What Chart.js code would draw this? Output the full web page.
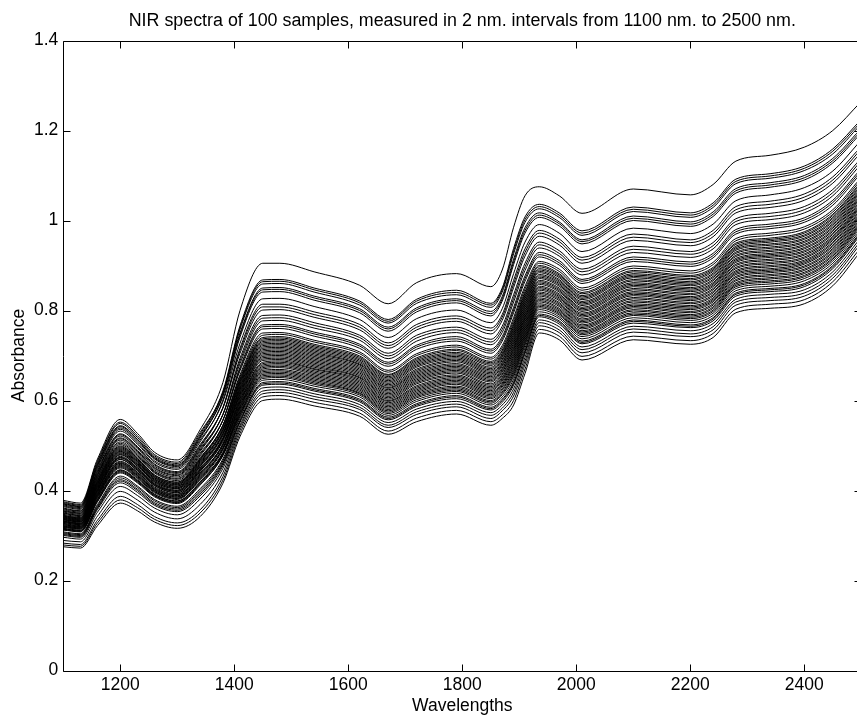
<!DOCTYPE html>
<html>
<head>
<meta charset="utf-8">
<script src="https://cdn.jsdelivr.net/npm/chart.js@4/dist/chart.umd.min.js"></script>
<style>
html,body{margin:0;padding:0;background:#fff;overflow:hidden;}
canvas{display:block;}
</style>
</head>
<body>
<canvas id="c" width="870" height="718"></canvas>
<script>
const wavelengths = [1100,1130,1160,1200,1230,1260,1300,1340,1380,1410,1450,1480,1540,1620,1670,1720,1790,1850,1870,1890,1910,1935,1970,2010,2100,2200,2240,2280,2340,2400,2450,2498];

// Absorbance of each sample at those wavelengths
const sample01 = [.378,.372,.470,.558,.527,.485,.468,.535,.640,.800,.905,.905,.886,.856,.815,.862,.882,.853,.890,.985,1.055,1.075,1.055,1.016,1.070,1.057,1.080,1.132,1.145,1.163,1.200,1.262];
const sample02 = [.373,.367,.463,.549,.518,.477,.460,.525,.621,.766,.868,.869,.850,.821,.780,.825,.845,.816,.850,.938,1.008,1.036,1.017,.977,1.030,1.017,1.039,1.092,1.104,1.121,1.159,1.222];
const sample03 = [.368,.362,.455,.539,.510,.470,.453,.516,.612,.758,.859,.860,.841,.812,.772,.816,.835,.807,.841,.926,.996,1.026,1.007,.967,1.020,1.007,1.029,1.082,1.094,1.111,1.148,1.212];
const sample04 = [.375,.369,.466,.552,.522,.480,.463,.529,.617,.750,.850,.851,.832,.804,.763,.806,.826,.798,.831,.914,.984,1.017,.997,.957,1.010,.997,1.019,1.071,1.084,1.100,1.138,1.202];
const sample05 = [.364,.358,.449,.532,.503,.463,.447,.508,.601,.741,.841,.842,.823,.795,.754,.797,.817,.788,.821,.902,.972,1.007,.988,.948,1.000,.987,1.009,1.061,1.074,1.090,1.128,1.192];
const sample06 = [.366,.360,.452,.536,.506,.466,.450,.512,.597,.727,.826,.827,.809,.780,.740,.782,.801,.773,.804,.882,.952,.991,.972,.931,.983,.971,.992,1.044,1.057,1.073,1.110,1.176];
const sample07 = [.357,.352,.440,.521,.493,.454,.438,.496,.584,.716,.814,.814,.797,.769,.728,.769,.788,.761,.791,.867,.937,.978,.959,.918,.970,.957,.978,1.031,1.043,1.059,1.097,1.162];
const sample08 = [.361,.355,.445,.526,.498,.459,.442,.502,.583,.705,.801,.802,.785,.757,.716,.757,.776,.748,.778,.851,.921,.965,.946,.905,.956,.944,.964,1.017,1.029,1.045,1.083,1.149];
const sample09 = [.352,.347,.433,.512,.484,.446,.430,.487,.569,.694,.789,.790,.773,.745,.705,.745,.763,.736,.765,.835,.905,.952,.933,.892,.943,.931,.951,1.004,1.016,1.031,1.069,1.136];
const sample10 = [.355,.350,.437,.517,.489,.451,.435,.493,.568,.682,.777,.778,.761,.734,.693,.732,.751,.724,.751,.819,.889,.939,.921,.879,.929,.918,.937,.991,1.002,1.017,1.055,1.123];
const sample11 = [.347,.342,.426,.502,.475,.439,.422,.477,.556,.674,.768,.769,.752,.725,.685,.723,.742,.714,.742,.807,.877,.929,.911,.869,.919,.908,.927,.980,.992,1.006,1.045,1.113];
const sample12 = [.350,.345,.430,.508,.481,.443,.427,.483,.556,.666,.759,.760,.743,.716,.676,.714,.732,.705,.732,.795,.865,.919,.901,.860,.909,.898,.917,.970,.982,.996,1.034,1.103];
const sample13 = [.343,.338,.420,.495,.469,.432,.416,.469,.545,.657,.750,.751,.734,.708,.667,.704,.723,.696,.722,.784,.854,.909,.892,.850,.899,.888,.907,.960,.972,.986,1.024,1.093];
const sample14 = [.345,.340,.423,.499,.472,.435,.419,.473,.544,.649,.740,.742,.725,.699,.658,.695,.714,.687,.712,.772,.842,.900,.882,.840,.889,.878,.896,.950,.961,.975,1.014,1.083];
const sample15 = [.339,.334,.414,.487,.462,.426,.410,.462,.535,.643,.734,.736,.719,.693,.653,.689,.707,.681,.705,.764,.834,.893,.876,.833,.882,.871,.890,.943,.955,.968,1.007,1.076];
const sample16 = [.341,.336,.417,.491,.465,.429,.413,.466,.535,.638,.728,.730,.713,.687,.647,.683,.701,.674,.699,.756,.826,.887,.869,.827,.876,.864,.883,.937,.948,.961,1.000,1.069];
const sample17 = [.335,.330,.408,.480,.455,.420,.404,.454,.526,.632,.722,.724,.707,.681,.641,.677,.695,.668,.692,.748,.818,.880,.863,.820,.869,.858,.876,.930,.941,.954,.993,1.063];
const sample18 = [.337,.332,.411,.484,.458,.423,.407,.458,.526,.626,.716,.718,.701,.676,.635,.670,.689,.662,.685,.740,.810,.874,.857,.814,.862,.851,.869,.923,.934,.947,.986,1.056];
const sample19 = [.332,.327,.403,.474,.450,.415,.400,.448,.518,.621,.710,.712,.695,.670,.629,.664,.682,.656,.679,.732,.802,.867,.850,.807,.856,.845,.862,.916,.927,.940,.979,1.050];
const sample20 = [.329,.324,.399,.469,.444,.411,.395,.442,.512,.615,.704,.706,.689,.664,.624,.658,.676,.650,.672,.724,.794,.861,.844,.801,.849,.838,.856,.910,.921,.933,.972,1.043];
const sample21 = [.333,.328,.405,.476,.451,.417,.401,.450,.515,.610,.698,.700,.683,.658,.618,.652,.670,.644,.666,.716,.786,.854,.837,.794,.842,.831,.849,.903,.914,.926,.965,1.036];
const sample22 = [.324,.320,.393,.461,.438,.404,.389,.435,.503,.604,.692,.694,.677,.652,.612,.646,.664,.637,.659,.709,.779,.848,.831,.788,.836,.825,.842,.896,.907,.919,.959,1.030];
const sample23 = [.327,.322,.396,.465,.441,.408,.392,.439,.503,.598,.685,.688,.671,.647,.606,.640,.657,.631,.652,.701,.771,.841,.825,.781,.829,.818,.835,.889,.900,.912,.952,1.023];
const sample24 = [.320,.316,.387,.454,.431,.398,.383,.427,.494,.593,.679,.682,.666,.641,.600,.633,.651,.625,.646,.693,.763,.835,.818,.775,.822,.811,.828,.883,.893,.906,.945,1.016];
const sample25 = [.322,.318,.390,.458,.434,.401,.386,.431,.494,.587,.673,.676,.660,.635,.595,.627,.645,.619,.639,.685,.755,.828,.812,.768,.815,.805,.822,.876,.887,.899,.938,1.010];
const sample26 = [.316,.312,.381,.446,.424,.392,.377,.419,.485,.582,.667,.669,.654,.629,.589,.621,.639,.613,.633,.677,.747,.822,.805,.762,.809,.798,.815,.869,.880,.892,.931,1.003];
const sample27 = [.312,.308,.375,.439,.417,.386,.371,.412,.479,.576,.661,.663,.648,.623,.583,.615,.632,.607,.626,.669,.739,.815,.799,.755,.802,.791,.808,.862,.873,.885,.924,.996];
const sample28 = [.318,.314,.384,.450,.427,.395,.380,.423,.483,.570,.655,.657,.642,.617,.577,.609,.626,.600,.619,.661,.731,.809,.793,.749,.795,.785,.801,.856,.866,.878,.917,.990];
const sample29 = [.308,.304,.369,.432,.410,.380,.365,.404,.470,.565,.649,.651,.636,.612,.571,.602,.620,.594,.613,.653,.723,.802,.786,.742,.789,.778,.794,.849,.859,.871,.910,.983];
const sample30 = [.304,.300,.363,.424,.403,.373,.359,.396,.462,.556,.640,.642,.627,.603,.563,.593,.611,.585,.603,.641,.711,.792,.777,.732,.779,.768,.784,.839,.849,.860,.900,.973];
const sample31 = [.300,.296,.358,.417,.396,.367,.353,.388,.455,.551,.634,.636,.621,.597,.557,.587,.604,.579,.596,.634,.704,.786,.770,.726,.772,.762,.777,.832,.842,.853,.893,.967];
const sample32 = [.296,.292,.352,.409,.389,.361,.346,.381,.449,.545,.628,.630,.615,.591,.551,.581,.598,.573,.590,.626,.696,.779,.764,.719,.765,.755,.771,.825,.836,.846,.886,.960];
const sample33 = [.289,.286,.343,.398,.379,.352,.337,.369,.440,.540,.621,.624,.609,.585,.545,.575,.592,.567,.583,.618,.688,.773,.757,.713,.759,.748,.764,.819,.829,.839,.879,.953];
const sample34 = [.283,.280,.334,.387,.369,.342,.328,.357,.431,.534,.615,.618,.603,.580,.540,.569,.586,.560,.577,.610,.680,.766,.751,.706,.752,.742,.757,.812,.822,.832,.872,.947];
const sample35 = [.279,.276,.328,.379,.362,.336,.322,.350,.423,.527,.608,.611,.596,.572,.532,.561,.578,.553,.568,.600,.670,.758,.743,.698,.743,.733,.749,.803,.814,.824,.864,.938];
const sample36 = [.275,.272,.322,.372,.355,.330,.316,.342,.416,.520,.600,.603,.588,.565,.525,.553,.570,.545,.560,.590,.660,.750,.735,.690,.735,.725,.740,.795,.805,.815,.855,.930];
const sample37 = [.354,.349,.435,.515,.487,.449,.433,.490,.569,.688,.783,.784,.767,.740,.699,.739,.757,.730,.758,.827,.897,.946,.927,.886,.936,.925,.944,.998,1.009,1.024,1.062,1.130];
const sample38 = [.349,.344,.428,.505,.478,.441,.425,.480,.556,.670,.764,.765,.748,.721,.681,.719,.737,.710,.737,.801,.871,.924,.906,.865,.914,.903,.922,.975,.987,1.001,1.040,1.108];
const sample39 = [.344,.339,.422,.497,.471,.434,.418,.471,.545,.653,.745,.747,.730,.704,.663,.700,.719,.692,.717,.778,.848,.905,.887,.845,.894,.883,.902,.955,.967,.981,1.019,1.088];
const sample40 = [.342,.337,.419,.493,.467,.431,.415,.468,.540,.646,.737,.739,.722,.696,.656,.692,.711,.684,.709,.768,.838,.897,.879,.837,.886,.875,.893,.947,.958,.972,1.011,1.080];
const sample41 = [.340,.335,.416,.489,.464,.428,.412,.464,.535,.641,.731,.733,.716,.690,.650,.686,.704,.678,.702,.760,.830,.890,.873,.830,.879,.868,.887,.940,.952,.965,1.004,1.073];
const sample42 = [.338,.333,.413,.486,.460,.425,.409,.460,.531,.635,.725,.727,.710,.684,.644,.680,.698,.671,.696,.752,.822,.884,.866,.824,.873,.861,.880,.934,.945,.958,.997,1.066];
const sample43 = [.336,.331,.410,.482,.457,.422,.406,.456,.526,.629,.719,.721,.704,.679,.638,.674,.692,.665,.689,.744,.814,.877,.860,.817,.866,.855,.873,.927,.938,.951,.990,1.060];
const sample44 = [.335,.330,.407,.479,.454,.419,.404,.453,.522,.624,.713,.715,.698,.673,.632,.667,.686,.659,.682,.736,.806,.871,.854,.811,.859,.848,.866,.920,.931,.944,.983,1.053];
const sample45 = [.331,.326,.401,.472,.447,.413,.398,.445,.515,.618,.707,.709,.692,.667,.627,.661,.679,.653,.676,.728,.798,.864,.847,.804,.853,.842,.859,.913,.924,.937,.976,1.047];
const sample46 = [.331,.326,.402,.473,.448,.414,.398,.446,.514,.613,.701,.703,.686,.661,.621,.655,.673,.647,.669,.720,.790,.858,.841,.798,.846,.835,.853,.907,.918,.930,.969,1.040];
const sample47 = [.329,.324,.399,.469,.445,.411,.395,.443,.509,.607,.695,.697,.680,.655,.615,.649,.667,.641,.663,.713,.783,.851,.834,.791,.839,.828,.846,.900,.911,.923,.962,1.033];
const sample48 = [.326,.321,.395,.463,.440,.406,.391,.437,.503,.601,.689,.691,.674,.650,.609,.643,.661,.634,.656,.705,.775,.845,.828,.785,.833,.822,.839,.893,.904,.916,.956,1.027];
const sample49 = [.324,.319,.392,.460,.436,.403,.388,.433,.499,.596,.682,.685,.669,.644,.603,.637,.654,.628,.649,.697,.767,.838,.822,.778,.826,.815,.832,.886,.897,.909,.949,1.020];
const sample50 = [.321,.317,.389,.456,.433,.400,.385,.429,.494,.590,.676,.679,.663,.638,.598,.630,.648,.622,.643,.689,.759,.832,.815,.772,.819,.808,.825,.880,.890,.903,.942,1.013];
const sample51 = [.319,.315,.386,.452,.429,.397,.382,.425,.490,.585,.670,.673,.657,.632,.592,.624,.642,.616,.636,.681,.751,.825,.809,.765,.812,.802,.819,.873,.884,.896,.935,1.007];
const sample52 = [.314,.310,.378,.443,.421,.389,.374,.416,.482,.579,.664,.666,.651,.626,.586,.618,.636,.610,.630,.673,.743,.819,.802,.759,.806,.795,.812,.866,.877,.889,.928,1.000];
const sample53 = [.315,.311,.380,.445,.422,.391,.376,.418,.481,.573,.658,.660,.645,.620,.580,.612,.629,.604,.623,.665,.735,.812,.796,.752,.799,.788,.805,.859,.870,.882,.921,.993];
const sample54 = [.313,.309,.377,.441,.419,.388,.373,.414,.477,.568,.652,.654,.639,.615,.574,.606,.623,.597,.616,.657,.727,.806,.790,.746,.792,.782,.798,.853,.863,.875,.914,.987];
const sample55 = [.302,.298,.361,.421,.400,.370,.356,.392,.459,.554,.637,.639,.624,.600,.560,.590,.608,.582,.600,.638,.708,.789,.774,.729,.776,.765,.781,.836,.846,.857,.897,.970];
const sample56 = [.359,.354,.443,.524,.496,.457,.440,.499,.584,.711,.808,.808,.791,.763,.722,.763,.782,.755,.785,.859,.929,.972,.953,.912,.963,.951,.971,1.024,1.036,1.052,1.090,1.156];
const sample57 = [.371,.365,.459,.544,.514,.474,.457,.521,.617,.762,.864,.865,.846,.817,.776,.821,.840,.812,.846,.932,1.002,1.031,1.012,.972,1.025,1.012,1.034,1.087,1.099,1.116,1.154,1.217];
const sample58 = [.370,.364,.458,.542,.513,.472,.455,.519,.609,.746,.846,.847,.828,.800,.759,.802,.822,.793,.826,.908,.978,1.012,.993,.953,1.005,.992,1.014,1.066,1.079,1.095,1.133,1.197];
const sample59 = [.306,.302,.366,.428,.407,.377,.362,.400,.466,.561,.645,.647,.632,.608,.567,.598,.616,.590,.608,.647,.717,.797,.782,.737,.784,.773,.789,.844,.854,.866,.905,.978];

const samples = [sample01,sample02,sample03,sample04,sample05,sample06,sample07,sample08,sample09,sample10,
  sample11,sample12,sample13,sample14,sample15,sample16,sample17,sample18,sample19,sample20,
  sample21,sample22,sample23,sample24,sample25,sample26,sample27,sample28,sample29,sample30,
  sample31,sample32,sample33,sample34,sample35,sample36,sample37,sample38,sample39,sample40,
  sample41,sample42,sample43,sample44,sample45,sample46,sample47,sample48,sample49,sample50,
  sample51,sample52,sample53,sample54,sample55,sample56,sample57,sample58,sample59];

// Tick labels
const xTicks = [1200,1400,1600,1800,2000,2200,2400];
const yTicks = [0,0.2,0.4,0.6,0.8,1,1.2,1.4];

const FONT = "'Liberation Sans', Arial, Helvetica, sans-serif";
const FS = 17.5;

const boxPlugin = {
  id: 'matlabBox',
  afterDraw(chart) {
    const {ctx, chartArea: a, scales: {x, y}} = chart;
    const L = Math.round(a.left) + 0.5, R = Math.round(a.right) + 0.5;
    const T = Math.round(a.top) + 0.5, B = Math.round(a.bottom) + 0.5;
    const tl = 7;
    ctx.save();
    ctx.strokeStyle = '#000';
    ctx.lineWidth = 1;
    ctx.beginPath();
    ctx.rect(L, T, R - L, B - T);
    xTicks.forEach(v => {
      const px = Math.round(x.getPixelForValue(v)) + 0.5;
      ctx.moveTo(px, B); ctx.lineTo(px, B - tl);
      ctx.moveTo(px, T); ctx.lineTo(px, T + tl);
    });
    yTicks.forEach(v => {
      const py = Math.round(y.getPixelForValue(v)) + 0.5;
      ctx.moveTo(L, py); ctx.lineTo(L + tl, py);
      ctx.moveTo(R, py); ctx.lineTo(R - tl, py);
    });
    ctx.stroke();
    ctx.restore();
  }
};

new Chart(document.getElementById('c'), {
  type: 'line',
  data: {
    datasets: samples.map((s, i) => ({
      label: 'Sample ' + (i + 1),
      data: wavelengths.map((w, j) => ({x: w, y: s[j]})),
      borderColor: '#000',
      borderWidth: 1,
      pointRadius: 0,
      fill: false,
      cubicInterpolationMode: 'monotone'
    }))
  },
  options: {
    responsive: false,
    animation: false,
    devicePixelRatio: 1,
    layout: {padding: {left: 0, right: 8.7, top: 0, bottom: 0}},
    plugins: {
      legend: {display: false},
      tooltip: {enabled: false},
      title: {
        display: true,
        fullSize: false,
        text: 'NIR spectra of 100 samples, measured in 2 nm. intervals from 1100 nm. to 2500 nm.',
        color: '#000',
        font: {family: FONT, size: 17.85, weight: 'normal', lineHeight: 1.2},
        padding: {top: 10.6, bottom: 8.5}
      }
    },
    scales: {
      x: {
        type: 'linear',
        min: 1100,
        max: 2500,
        afterBuildTicks: axis => { axis.ticks = xTicks.map(v => ({value: v})); },
        afterFit: s => { s.height = 47.5; },
        grid: {display: false, drawTicks: false},
        border: {display: false},
        ticks: {color: '#000', font: {family: FONT, size: FS}, padding: 4.5, maxRotation: 0, autoSkip: false,
                callback: v => String(v)},
        title: {display: true, text: 'Wavelengths', color: '#000', font: {family: FONT, size: FS}, padding: {top: 0, bottom: 1}}
      },
      y: {
        type: 'linear',
        min: 0,
        max: 1.4,
        afterBuildTicks: axis => { axis.ticks = yTicks.map(v => ({value: v})); },
        afterFit: s => { s.width = 63.3; },
        grid: {display: false, drawTicks: false},
        border: {display: false},
        ticks: {color: '#000', font: {family: FONT, size: FS}, padding: 5, autoSkip: false,
                callback: v => String(v)},
        title: {display: true, text: 'Absorbance', color: '#000', font: {family: FONT, size: FS}, padding: {top: 8.5, bottom: 0}}
      }
    }
  },
  plugins: [boxPlugin]
});
</script>
</body>
</html>
